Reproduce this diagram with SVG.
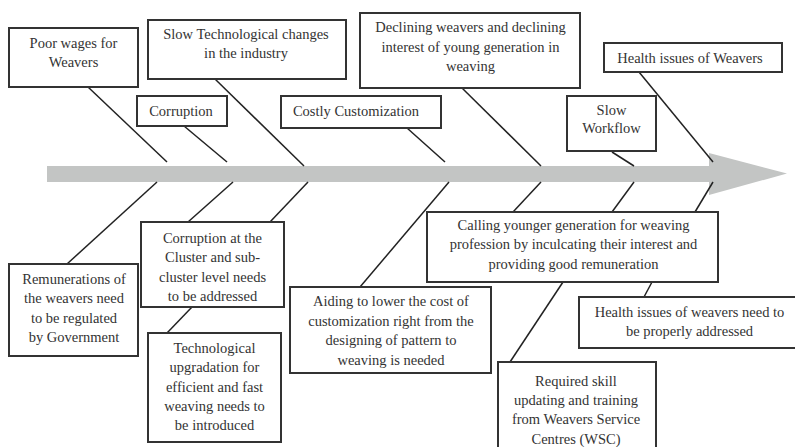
<svg xmlns="http://www.w3.org/2000/svg" width="795" height="447" viewBox="0 0 795 447">
<style>
.box{fill:#fff;stroke:#333;stroke-width:2}
text{font-family:'Liberation Serif','Times New Roman','DejaVu Serif',serif;font-size:14.5px;fill:#333;text-anchor:middle}
.c line{stroke:#222;stroke-width:1.5}
</style>
<rect width="795" height="447" fill="#fff"/>
<g id="spine">
<rect x="47" y="166" width="664" height="16" fill="#c3c5c4"/>
<polygon points="709,153 787,173.5 709,195" fill="#c3c5c4"/>
</g>
<g class="c" id="connectors">
<line x1="88" y1="87" x2="167" y2="162"/>
<line x1="184" y1="126" x2="227" y2="162"/>
<line x1="215" y1="79" x2="304" y2="166"/>
<line x1="407" y1="128" x2="445" y2="162"/>
<line x1="462" y1="88" x2="541" y2="166"/>
<line x1="612" y1="152" x2="634" y2="166"/>
<line x1="639" y1="72" x2="713" y2="162"/>
<line x1="157" y1="182" x2="67" y2="264"/>
<line x1="233" y1="182" x2="188" y2="222"/>
<line x1="308" y1="182" x2="270" y2="222"/>
<line x1="192" y1="307" x2="167" y2="333"/>
<line x1="449" y1="182" x2="360" y2="287"/>
<line x1="541" y1="182" x2="513" y2="212"/>
<line x1="634" y1="182" x2="612" y2="212"/>
<line x1="713" y1="182" x2="695" y2="212"/>
<line x1="563" y1="282" x2="510" y2="362"/>
<line x1="652" y1="282" x2="644" y2="297"/>
</g>
<g id="n-poor-wages" font-family="Liberation Serif, serif">
<rect class="box" x="9" y="28" width="129" height="59"/>
<text x="73.5" y="48">Poor wages for</text>
<text x="73.5" y="67">Weavers</text>
</g>
<g id="n-corruption">
<rect class="box" x="137" y="96" width="90" height="30"/>
<text x="181" y="116">Corruption</text>
</g>
<g id="n-slow-tech">
<rect class="box" x="148" y="20" width="198" height="59"/>
<text x="246" y="39">Slow Technological changes</text>
<text x="246" y="58">in the industry</text>
</g>
<g id="n-costly">
<rect class="box" x="281" y="96" width="160" height="32"/>
<text x="356" y="116">Costly Customization</text>
</g>
<g id="n-declining">
<rect class="box" x="360" y="13" width="220" height="75"/>
<text x="470.5" y="32">Declining weavers and declining</text>
<text x="470.5" y="51.5">interest of young generation in</text>
<text x="470.5" y="70.5">weaving</text>
</g>
<g id="n-slow-workflow">
<rect class="box" x="567" y="96" width="89" height="55"/>
<text x="611.5" y="115">Slow</text>
<text x="611.5" y="133">Workflow</text>
</g>
<g id="n-health">
<rect class="box" x="604" y="43" width="178" height="29"/>
<text x="690" y="63">Health issues of Weavers</text>
</g>
<g id="n-remuneration">
<rect class="box" x="9" y="264" width="129" height="92"/>
<text x="74" y="284">Remunerations of</text>
<text x="74" y="303.3">the weavers need</text>
<text x="74" y="322.6">to be regulated</text>
<text x="74" y="341.9">by Government</text>
</g>
<g id="n-corruption-cluster">
<rect class="box" x="141" y="222" width="143" height="85"/>
<text x="212.5" y="243">Corruption at the</text>
<text x="212.5" y="262.3">Cluster and sub-</text>
<text x="212.5" y="281.6">cluster level needs</text>
<text x="212.5" y="300.9">to be addressed</text>
</g>
<g id="n-tech-upgradation">
<rect class="box" x="148" y="333" width="133" height="109"/>
<text x="214.5" y="353">Technological</text>
<text x="214.5" y="372.3">upgradation for</text>
<text x="214.5" y="391.6">efficient and fast</text>
<text x="214.5" y="410.9">weaving needs to</text>
<text x="214.5" y="430.2">be introduced</text>
</g>
<g id="n-aiding">
<rect class="box" x="290" y="287" width="201" height="86"/>
<text x="391" y="306">Aiding to lower the cost of</text>
<text x="391" y="325.5">customization right from the</text>
<text x="391" y="345">designing of pattern to</text>
<text x="391" y="364.5">weaving is needed</text>
</g>
<g id="n-calling">
<rect class="box" x="427" y="212" width="291" height="70"/>
<text x="573.5" y="230">Calling younger generation for weaving</text>
<text x="573.5" y="249.3">profession by inculcating their interest and</text>
<text x="573.5" y="268.6">providing good remuneration</text>
</g>
<g id="n-health-address">
<rect class="box" x="579" y="297" width="222" height="51"/>
<text x="689.5" y="316.5">Health issues of weavers need to</text>
<text x="689.5" y="335.5">be properly addressed</text>
</g>
<g id="n-skill">
<rect class="box" x="498" y="362" width="158" height="100"/>
<text x="576" y="385.7">Required skill</text>
<text x="576" y="405">updating and training</text>
<text x="576" y="424.3">from Weavers Service</text>
<text x="576" y="443.6">Centres (WSC)</text>
</g>
</svg>
